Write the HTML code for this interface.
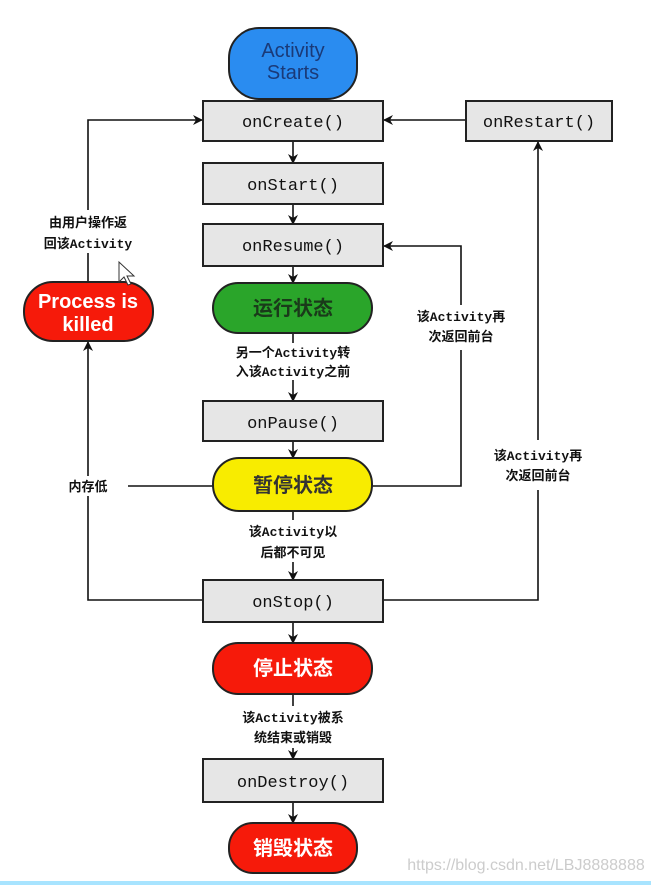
<!DOCTYPE html>
<html><head><meta charset="utf-8"><style>
html,body{margin:0;padding:0;background:#fff;}
svg{display:block;}
.b{fill:#e6e6e6;stroke:#222;stroke-width:2;}
.bt{font-family:"Liberation Mono",monospace;font-size:17px;fill:#111;text-anchor:middle;}
.l{font-size:13px;font-weight:bold;fill:#111;text-anchor:middle;font-family:"Liberation Mono","Noto Sans CJK SC",monospace;}
.st{font-family:"Liberation Sans","Noto Sans CJK SC",sans-serif;font-size:20px;font-weight:bold;text-anchor:middle;}
.sa{font-family:"Liberation Sans",sans-serif;text-anchor:middle;}
</style></head><body>
<svg width="651" height="885" viewBox="0 0 651 885" xmlns="http://www.w3.org/2000/svg">
<defs><marker id="a" markerWidth="10" markerHeight="10" refX="9" refY="5" orient="auto" markerUnits="userSpaceOnUse"><path d="M0,0 L10,5 L0,10 L3,5 Z" fill="#111"/></marker></defs>
<g stroke="#111" stroke-width="1.6" fill="none">
<line x1="293" y1="88" x2="293" y2="101" marker-end="url(#a)"/>
<line x1="293" y1="141" x2="293" y2="163" marker-end="url(#a)"/>
<line x1="293" y1="204" x2="293" y2="224" marker-end="url(#a)"/>
<line x1="293" y1="266" x2="293" y2="283" marker-end="url(#a)"/>
<line x1="293" y1="333" x2="293" y2="343"/>
<line x1="293" y1="380" x2="293" y2="401" marker-end="url(#a)"/>
<line x1="293" y1="441" x2="293" y2="458" marker-end="url(#a)"/>
<line x1="293" y1="511" x2="293" y2="520"/>
<line x1="293" y1="562" x2="293" y2="580" marker-end="url(#a)"/>
<line x1="293" y1="622" x2="293" y2="643" marker-end="url(#a)"/>
<line x1="293" y1="694" x2="293" y2="706"/>
<line x1="293" y1="748" x2="293" y2="759" marker-end="url(#a)"/>
<line x1="293" y1="802" x2="293" y2="823" marker-end="url(#a)"/>
<line x1="466" y1="120" x2="384" y2="120" marker-end="url(#a)"/>
<polyline points="88,210 88,120 202,120" marker-end="url(#a)"/>
<line x1="88" y1="253" x2="88" y2="282"/>
<polyline points="203,600 88,600 88,496"/>
<line x1="88" y1="476" x2="88" y2="342" marker-end="url(#a)"/>
<line x1="128" y1="486" x2="213" y2="486"/>
<polyline points="372,486 461,486 461,350"/>
<polyline points="461,305 461,246 384,246" marker-end="url(#a)"/>
<polyline points="383,600 538,600 538,490"/>
<line x1="538" y1="440" x2="538" y2="142" marker-end="url(#a)"/>
</g>
<rect x="229" y="28" width="128" height="71" rx="30" fill="#2a8cf0" stroke="#222" stroke-width="2"/>
<text class="sa" x="293" y="57" font-size="20" fill="#1a3a78">Activity</text>
<text class="sa" x="293" y="79" font-size="20" fill="#1a3a78">Starts</text>
<rect class="b" x="203" y="101" width="180" height="40"/><text class="bt" x="293" y="127">onCreate()</text>
<rect class="b" x="466" y="101" width="146" height="40"/><text class="bt" x="539" y="127">onRestart()</text>
<rect class="b" x="203" y="163" width="180" height="41"/><text class="bt" x="293" y="190">onStart()</text>
<rect class="b" x="203" y="224" width="180" height="42"/><text class="bt" x="293" y="251">onResume()</text>
<rect x="213" y="283" width="159" height="50" rx="25" fill="#2aa52a" stroke="#222" stroke-width="2"/>
<text class="st" x="293" y="315" fill="#1a3a1a">运行状态</text>
<text class="l" x="293" y="357">另一个Activity转</text>
<text class="l" x="293" y="376">入该Activity之前</text>
<rect class="b" x="203" y="401" width="180" height="40"/><text class="bt" x="293" y="428">onPause()</text>
<rect x="213" y="458" width="159" height="53" rx="26" fill="#f8ec00" stroke="#222" stroke-width="2"/>
<text class="st" x="293" y="492" fill="#333">暂停状态</text>
<text class="l" x="293" y="536">该Activity以</text>
<text class="l" x="293" y="557">后都不可见</text>
<rect class="b" x="203" y="580" width="180" height="42"/><text class="bt" x="293" y="607">onStop()</text>
<rect x="213" y="643" width="159" height="51" rx="25" fill="#f61a0a" stroke="#222" stroke-width="2"/>
<text class="st" x="293" y="675" fill="#fff">停止状态</text>
<text class="l" x="293" y="722">该Activity被系</text>
<text class="l" x="293" y="742">统结束或销毁</text>
<rect class="b" x="203" y="759" width="180" height="43"/><text class="bt" x="293" y="787">onDestroy()</text>
<rect x="229" y="823" width="128" height="50" rx="24" fill="#f61a0a" stroke="#222" stroke-width="2"/>
<text class="st" x="293" y="855" fill="#fff">销毁状态</text>
<rect x="24" y="282" width="129" height="59" rx="29" fill="#f61a0a" stroke="#222" stroke-width="2"/>
<text class="sa" x="88" y="308" font-size="20" font-weight="bold" fill="#fff">Process is</text>
<text class="sa" x="88" y="331" font-size="20" font-weight="bold" fill="#fff">killed</text>
<text class="l" x="88" y="227">由用户操作返</text>
<text class="l" x="88" y="248">回该Activity</text>
<text class="l" x="88" y="491">内存低</text>
<text class="l" x="461" y="321">该Activity再</text>
<text class="l" x="461" y="341">次返回前台</text>
<text class="l" x="538" y="460">该Activity再</text>
<text class="l" x="538" y="480">次返回前台</text>
<path d="M119,262 L119,282 L124,277 L128,285 L131,284 L127,276 L134,276 Z" fill="#fff" stroke="#333" stroke-width="1"/>
<text class="sa" x="526" y="870" font-size="16" fill="#ccc">https://blog.csdn.net/LBJ8888888</text>
<rect x="0" y="881" width="651" height="4" fill="#a8e4ff"/>
</svg>
</body></html>
